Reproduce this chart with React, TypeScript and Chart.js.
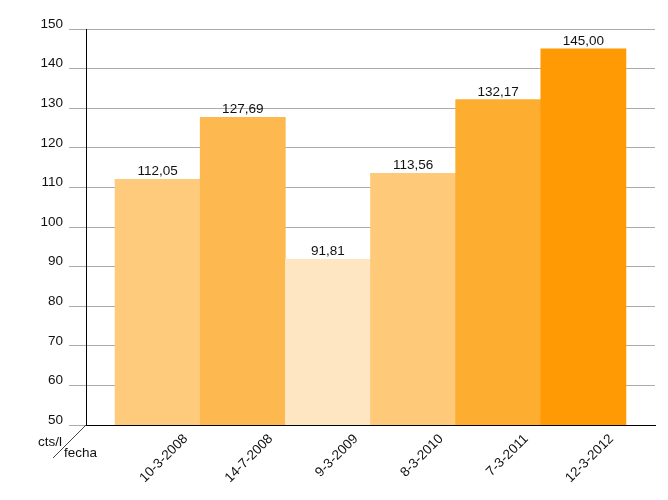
import React, { useEffect, useRef } from 'react';
import { Chart, registerables } from 'chart.js';

Chart.register(...registerables);

const categories = ['10-3-2008', '14-7-2008', '9-3-2009', '8-3-2010', '7-3-2011', '12-3-2012'];
const values = [112.05, 127.69, 91.81, 113.56, 132.17, 145.0];
const valueLabels = ['112,05', '127,69', '91,81', '113,56', '132,17', '145,00'];
const barColors = ['#fecb7c', '#fdb94f', '#ffe6c3', '#fec978', '#fdae30', '#ff9a05'];
const yMin = 50;
const yMax = 150;
const yStep = 10;
const yAxisTitle = 'cts/l';
const xAxisTitle = 'fecha';

const FONT = '"Liberation Sans", Arial, sans-serif';

export default function App() {
  const ref = useRef<HTMLCanvasElement | null>(null);

  useEffect(() => {
    document.body.style.margin = '0';
    const canvas = ref.current;
    if (!canvas) return;

    const valueLabelPlugin = {
      id: 'valueLabels',
      afterDatasetsDraw(chart: any) {
        const ctx = chart.ctx;
        const meta = chart.getDatasetMeta(0);
        ctx.save();
        ctx.font = `13.5px ${FONT}`;
        ctx.fillStyle = '#111';
        ctx.textAlign = 'center';
        ctx.textBaseline = 'bottom';
        meta.data.forEach((bar: any, i: number) => {
          ctx.fillText(valueLabels[i], bar.x, bar.y - 1);
        });
        ctx.restore();
      },
    };

    const cornerPlugin = {
      id: 'corner',
      afterDraw(chart: any) {
        const ctx = chart.ctx;
        const { left, bottom } = chart.chartArea;
        ctx.save();
        ctx.strokeStyle = '#444';
        ctx.lineWidth = 1;
        ctx.beginPath();
        ctx.moveTo(left, bottom);
        ctx.lineTo(left - 33, bottom + 33);
        ctx.stroke();
        ctx.font = `13.5px ${FONT}`;
        ctx.fillStyle = '#111';
        ctx.textBaseline = 'middle';
        ctx.textAlign = 'left';
        ctx.fillText(yAxisTitle, left - 48, bottom + 17);
        ctx.fillText(xAxisTitle, left - 22, bottom + 28);
        ctx.restore();
      },
    };

    const chart = new Chart(canvas, {
      type: 'bar',
      data: {
        datasets: [
          {
            data: values.map((v, i) => ({ x: i, y: v })),
            backgroundColor: barColors,
            borderWidth: 0,
            barPercentage: 1,
            categoryPercentage: 1,
          },
        ],
      },
      options: {
        animation: false,
        responsive: false,
        maintainAspectRatio: false,
        layout: { padding: { top: 29, right: 13, left: 0, bottom: 0 } },
        plugins: {
          legend: { display: false },
          tooltip: { enabled: false },
        },
        scales: {
          x: {
            type: 'linear',
            offset: false,
            min: -0.841,
            max: 5.841,
            afterBuildTicks: (s: any) => {
              s.ticks = categories.map((_, i) => ({ value: i }));
            },
            afterFit: (s: any) => {
              s.height = 75;
            },
            grid: { display: false, drawTicks: false },
            border: { display: true, color: '#000', width: 1 },
            ticks: {
              autoSkip: false,
              maxRotation: 45,
              minRotation: 45,
              padding: 6,
              labelOffset: 28,
              color: '#111',
              font: { family: FONT, size: 13.5 },
              callback: (v: any) => categories[v] ?? '',
            },
          },
          y: {
            min: yMin,
            max: yMax,
            afterFit: (s: any) => {
              s.width = 86;
            },
            grid: { color: '#aaaaaa', lineWidth: 1, tickLength: 17, drawTicks: true },
            border: { display: true, color: '#000', width: 1 },
            ticks: {
              stepSize: yStep,
              padding: 6,
              labelOffset: -5,
              color: '#111',
              font: { family: FONT, size: 13.5 },
            },
          },
        },
      },
      plugins: [valueLabelPlugin, cornerPlugin],
    } as any);

    return () => chart.destroy();
  }, []);

  return (
    <div style={{ width: 668, height: 500, position: 'relative', background: '#fff' }}>
      <canvas ref={ref} width={668} height={500} style={{ display: 'block' }} />
    </div>
  );
}
